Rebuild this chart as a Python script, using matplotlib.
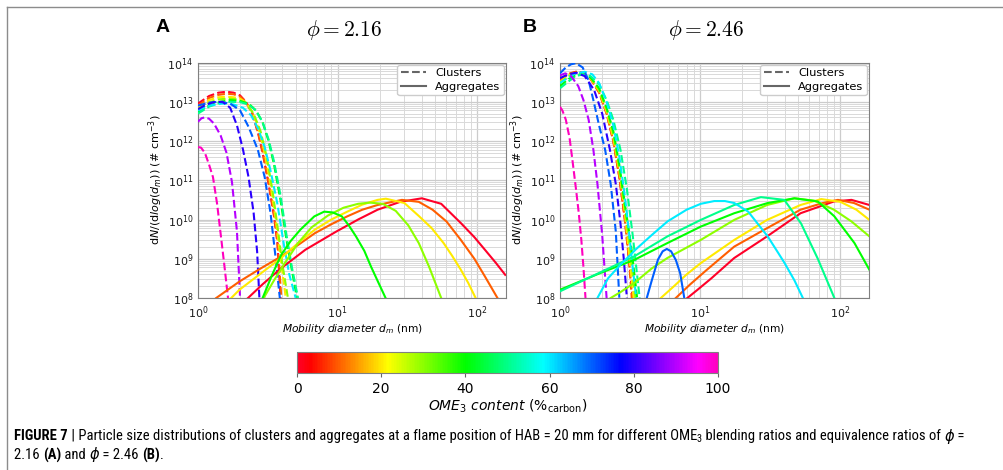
import numpy as np
import matplotlib
matplotlib.use("Agg")
import matplotlib.pyplot as plt
from matplotlib.lines import Line2D
from matplotlib.colors import Normalize
from matplotlib.cm import ScalarMappable
import matplotlib.font_manager as fm

# ---------------- data ----------------
# OME3 content (% carbon) of each curve
A_cluster_content = [0, 10, 20, 30, 40, 50, 60, 70, 80, 90, 100]
A_cluster_d = [
    [1.0, 1.2, 1.4, 1.6, 1.8, 2.0, 2.2, 2.45, 2.7, 2.9, 3.2, 3.5, 3.7, 3.9],
    [1.0, 1.2, 1.4, 1.6, 1.8, 2.0, 2.2, 2.45, 2.7, 2.9, 3.2, 3.5, 3.7, 3.95],
    [1.0, 1.2, 1.4, 1.6, 1.8, 2.0, 2.2, 2.45, 2.7, 3.0, 3.3, 3.6, 3.9, 4.25],
    [1.0, 1.2, 1.4, 1.65, 1.9, 2.2, 2.5, 2.8, 3.1, 3.4, 3.7, 4.0, 4.4],
    [1.0, 1.2, 1.45, 1.7, 2.0, 2.3, 2.6, 2.9, 3.2, 3.5, 3.9, 4.3, 4.7, 5.1],
    [1.0, 1.2, 1.45, 1.7, 2.0, 2.3, 2.6, 2.9, 3.2, 3.5, 3.9, 4.3, 4.7, 5.2],
    [1.0, 1.2, 1.5, 1.8, 2.1, 2.4, 2.7, 3.0, 3.3, 3.7, 4.1, 4.5, 5.0],
    [1.0, 1.2, 1.4, 1.7, 2.0, 2.3, 2.68, 3.0, 3.3, 3.6, 3.85],
    [1.0, 1.15, 1.3, 1.5, 1.7, 1.9, 2.1, 2.3, 2.5, 2.65, 2.75],
    [1.0, 1.06, 1.12, 1.2, 1.3, 1.45, 1.6, 1.75, 1.9, 2.0],
    [1.0, 1.05, 1.12, 1.2, 1.28, 1.37, 1.47, 1.55, 1.64],
]
A_cluster_N = [
    [9e12, 1.4e13, 1.7e13, 1.8e13, 1.7e13, 1.45e13, 1.0e13, 5e12, 1.5e12, 5e11, 8e10, 1.2e10, 2.5e9, 1e8],
    [8e12, 1.25e13, 1.5e13, 1.6e13, 1.55e13, 1.35e13, 1.0e13, 5e12, 1.6e12, 5.5e11, 9e10, 1.4e10, 3e9, 1e8],
    [7e12, 1.1e13, 1.3e13, 1.35e13, 1.3e13, 1.2e13, 9.5e12, 5.5e12, 2.2e12, 5e11, 8e10, 1e10, 1e9, 1e8],
    [6.5e12, 9.5e12, 1.15e13, 1.2e13, 1.15e13, 9e12, 5e12, 1.8e12, 4e11, 6e10, 7e9, 8e8, 1e8],
    [5.5e12, 8e12, 1.0e13, 1.1e13, 1.05e13, 9e12, 6e12, 3e12, 1e12, 2.5e11, 3e10, 3e9, 5e8, 1e8],
    [5e12, 7.5e12, 9.5e12, 1.0e13, 9.8e12, 8.5e12, 6e12, 3e12, 1.1e12, 3e11, 4e10, 4e9, 6e8, 1e8],
    [6e12, 8e12, 9e12, 8.5e12, 7e12, 4.5e12, 2e12, 7e11, 1.8e11, 2.5e10, 2.5e9, 4e8, 1e8],
    [8e12, 9.5e12, 1e13, 9e12, 6e12, 2.3e12, 6e11, 1.2e11, 1.5e10, 1e9, 1e8],
    [6.5e12, 8.5e12, 9.8e12, 1e13, 7e12, 2.5e12, 6e11, 1.2e11, 1.5e10, 1.5e9, 1e8],
    [3.1e12, 3.8e12, 4e12, 3.7e12, 2.8e12, 1.4e12, 5e11, 9e10, 5e9, 1e8],
    [7e11, 6.8e11, 5e11, 2.5e11, 1.2e11, 2.5e10, 3e9, 6e8, 1e8],
]

A_aggr_content = [0, 10, 20, 30, 40]
A_aggr_d = [
    [2.28, 2.9, 3.94, 5.87, 9.73, 14, 19.3, 28, 40, 55, 76, 95, 113, 135, 158],
    [1.35, 1.98, 2.8, 3.94, 5.2, 6.85, 9, 11.7, 15, 19.3, 28.8, 38, 47.7, 60, 76, 95, 113, 139],
    [1.73, 1.98, 2.8, 3.94, 5.2, 6.85, 9, 11.7, 15, 19.3, 22.1, 30, 38.3, 47, 57.2, 66, 76, 86, 97],
    [2.95, 3.5, 4.2, 5.2, 6.5, 8.5, 11, 14, 17, 21, 26, 32, 38, 45, 55],
    [2.9, 3.4, 3.94, 4.6, 5.4, 6.8, 8.0, 9.2, 10.7, 12, 13.5, 15.5, 17.3, 19.5, 22],
]
A_aggr_logN = [
    [8.0, 8.35, 8.76, 9.23, 9.69, 10.0, 10.25, 10.45, 10.54, 10.4, 9.91, 9.55, 9.23, 8.9, 8.59],
    [8.0, 8.42, 8.75, 9.06, 9.35, 9.65, 9.88, 10.08, 10.25, 10.37, 10.5, 10.45, 10.25, 9.95, 9.48, 9.0, 8.55, 8.0],
    [8.0, 8.21, 8.62, 9.02, 9.4, 9.74, 10.0, 10.2, 10.38, 10.5, 10.53, 10.42, 10.08, 9.78, 9.4, 9.07, 8.72, 8.38, 8.0],
    [8.0, 8.45, 8.9, 9.4, 9.8, 10.1, 10.3, 10.4, 10.43, 10.4, 10.22, 9.85, 9.4, 8.8, 8.0],
    [8.0, 8.6, 9.1, 9.45, 9.74, 10.08, 10.2, 10.18, 10.08, 9.85, 9.57, 9.2, 8.8, 8.4, 8.0],
]

B_cluster_content = [0, 10, 20, 30, 40, 50, 60, 70, 80, 90, 100]
B_cluster_d = [
    [1.0, 1.15, 1.3, 1.45, 1.65, 1.9, 2.15, 2.4, 2.65, 2.9, 3.1, 3.3],
    [1.0, 1.15, 1.3, 1.45, 1.65, 1.9, 2.15, 2.4, 2.65, 2.9, 3.1, 3.25],
    [1.0, 1.15, 1.3, 1.45, 1.65, 1.9, 2.15, 2.4, 2.65, 2.9, 3.1, 3.35],
    [1.0, 1.15, 1.3, 1.45, 1.65, 1.9, 2.15, 2.4, 2.65, 2.9, 3.15, 3.45],
    [1.0, 1.15, 1.3, 1.45, 1.65, 1.9, 2.15, 2.4, 2.65, 2.9, 3.2, 3.55],
    [1.0, 1.15, 1.3, 1.45, 1.65, 1.9, 2.15, 2.4, 2.7, 3.0, 3.3, 3.5, 3.7],
    [1.0, 1.15, 1.3, 1.5, 1.7, 1.9, 2.15, 2.4, 2.65, 2.9, 3.1, 3.3, 3.5],
    [1.0, 1.1, 1.2, 1.3, 1.45, 1.6, 1.73, 1.9, 2.1, 2.3, 2.5, 2.65],
    [1.0, 1.15, 1.3, 1.5, 1.75, 2.0, 2.27, 2.5, 2.7, 2.85, 3.0],
    [1.0, 1.09, 1.2, 1.35, 1.47, 1.6, 1.73, 1.85, 2.0, 2.15],
    [1.0, 1.04, 1.1, 1.17, 1.23, 1.3, 1.36, 1.42, 1.47, 1.52],
]
B_cluster_N = [
    [3.5e13, 5e13, 5.8e13, 5.5e13, 4e13, 1.8e13, 5e12, 1e12, 1.2e11, 1e10, 1e9, 1e8],
    [3.8e13, 5.2e13, 5.8e13, 5.3e13, 3.8e13, 1.7e13, 5e12, 1e12, 1.2e11, 1e10, 1e9, 1e8],
    [3.2e13, 4.8e13, 5.5e13, 5.3e13, 4e13, 1.9e13, 5.5e12, 1.2e12, 1.6e11, 1.5e10, 1.5e9, 1e8],
    [3e13, 4.5e13, 5.2e13, 5.2e13, 4.2e13, 2e13, 6.5e12, 1.5e12, 2e11, 2e10, 2e9, 1e8],
    [2.5e13, 3.8e13, 4.8e13, 5e13, 4.2e13, 2.2e13, 7e12, 1.8e12, 2.5e11, 2.5e10, 2.5e9, 1e8],
    [2.2e13, 3.3e13, 4.5e13, 5e13, 4.5e13, 2.8e13, 1.1e13, 3.5e12, 6e11, 6e10, 4e9, 6e8, 1e8],
    [3e13, 4.2e13, 5.3e13, 5.8e13, 5e13, 3e13, 1e13, 2.5e12, 4e11, 4e10, 5e9, 6e8, 1e8],
    [5.3e13, 7.5e13, 9e13, 9.6e13, 7.5e13, 3.5e13, 1.1e13, 2.5e12, 5.9e11, 8e10, 5e9, 1e8],
    [4e13, 5e13, 5.5e13, 4.5e13, 2e13, 5e12, 6e11, 8e10, 8e9, 1e9, 1e8],
    [4.7e13, 5.3e13, 4.5e13, 2.5e13, 1.1e13, 3.5e12, 6e11, 8e10, 4e9, 1e8],
    [7.4e12, 6e12, 3.5e12, 1.2e12, 3e11, 6e10, 1.5e10, 3e9, 6e8, 1e8],
]

B_aggr_content = [0, 10, 20, 30, 40, 50, 60, 70]
B_aggr_d = [
    [8.1, 9.5, 12, 17.5, 30, 52, 90, 120, 161],
    [6.7, 8.5, 11, 17.5, 30, 52, 75, 96, 125, 161],
    [5.24, 6.5, 8, 10.1, 17.5, 30, 52, 73, 100, 130, 161],
    [2.3, 2.7, 3.38, 4.5, 5.84, 10.1, 17.5, 30, 47, 65, 90, 120, 161],
    [1.0, 1.95, 3.38, 5.84, 10.1, 17.5, 30.3, 47, 69, 90.6, 126, 161],
    [1.0, 3.38, 5.84, 10.1, 17.5, 27.1, 39.8, 52.4, 69, 90.6],
    [1.85, 2.2, 2.7, 3.5, 4.5, 5.84, 8, 10.1, 12.6, 15, 17.5, 22, 30.3, 36, 40, 47, 54],
    [4.16, 4.5, 5.0, 5.4, 5.78, 6.2, 6.7, 7.2, 7.7],
]
B_aggr_logN = [
    [8.0, 8.2, 8.5, 9.02, 9.57, 10.16, 10.46, 10.5, 10.37],
    [8.0, 8.35, 8.7, 9.31, 9.78, 10.25, 10.42, 10.5, 10.42, 10.25],
    [8.0, 8.3, 8.6, 8.89, 9.48, 9.99, 10.37, 10.52, 10.45, 10.25, 9.99],
    [8.0, 8.15, 8.38, 8.75, 9.02, 9.48, 9.99, 10.37, 10.54, 10.48, 10.25, 9.95, 9.57],
    [8.21, 8.64, 8.97, 9.4, 9.82, 10.16, 10.42, 10.54, 10.46, 10.08, 9.4, 8.72],
    [8.17, 9.06, 9.57, 9.99, 10.37, 10.57, 10.5, 9.9, 9.0, 8.0],
    [8.0, 8.5, 8.85, 9.25, 9.6, 9.95, 10.25, 10.4, 10.47, 10.47, 10.42, 10.2, 9.57, 9.15, 8.89, 8.45, 8.0],
    [8.0, 8.43, 8.98, 9.19, 9.25, 9.19, 8.97, 8.63, 8.0],
]

panel_titles = [r"$\phi = 2.16$", r"$\phi = 2.46$"]
panel_letters = ["A", "B"]
cbar_ticks = [0, 20, 40, 60, 80, 100]

# ---------------- figure ----------------
plt.rcParams["mathtext.fontset"] = "dejavusans"
W, H = 1004, 470
fig = plt.figure(figsize=(W / 100, H / 100), dpi=100)
cmap = plt.get_cmap("gist_rainbow")
norm = Normalize(0, 100)

def fx(px):
    return px / W

def fy(py):
    return 1 - py / H

ax_boxes = [(198, 506), (560, 869)]
ax_top, ax_bot = 62.5, 298

panels = [
    (A_cluster_content, A_cluster_d, A_cluster_N, A_aggr_content, A_aggr_d, A_aggr_logN),
    (B_cluster_content, B_cluster_d, B_cluster_N, B_aggr_content, B_aggr_d, B_aggr_logN),
]

title_x = [344, 706]
letter_x = [163, 530]

for k, (cc, cd, cn, ac, ad, an) in enumerate(panels):
    l, r = ax_boxes[k]
    ax = fig.add_axes([fx(l), fy(ax_bot), (r - l) / W, (ax_bot - ax_top) / H])
    for c, d, n in zip(cc, cd, cn):
        ax.plot(d, n, ls="--", color=cmap(norm(c)), lw=1.5, zorder=3)
    for c, d, ln in zip(ac, ad, an):
        ax.plot(d, 10.0 ** np.array(ln), ls="-", color=cmap(norm(c)), lw=1.5, zorder=3)
    ax.set_xscale("log")
    ax.set_yscale("log")
    ax.set_xlim(1, 160)
    ax.set_ylim(1e8, 1e14)
    ax.yaxis.set_major_locator(matplotlib.ticker.LogLocator(base=10, numticks=20))
    ax.yaxis.set_minor_locator(matplotlib.ticker.LogLocator(base=10, subs=np.arange(2, 10), numticks=100))
    ax.grid(True, which="major", color="0.8", lw=0.9)
    ax.grid(True, which="minor", color="0.85", lw=0.7)
    ax.set_axisbelow(True)
    for s in ax.spines.values():
        s.set_color("0.5")
    ax.tick_params(which="both", length=0, labelsize=8, labelcolor="0.1")
    ax.tick_params(axis="x", which="both", pad=4.5)
    ax.tick_params(axis="y", which="both", pad=3.5)
    ax.set_xlabel(r"$Mobility\ diameter\ d_m$ (nm)", fontsize=7.7, labelpad=1)
    ax.set_ylabel(r"d$N$/(d$log$($d_m$)) (# cm$^{-3}$)", fontsize=8, labelpad=2)
    handles = [Line2D([], [], color="0.4", ls="--", lw=1.5),
               Line2D([], [], color="0.4", ls="-", lw=1.5)]
    ax.legend(handles, ["Clusters", "Aggregates"], loc="upper right", fontsize=8.2,
              handlelength=2.2, handletextpad=0.8, borderpad=0.3, labelspacing=0.3,
              framealpha=1, edgecolor="0.8", fancybox=True, borderaxespad=0.2)
    fig.text(fx(title_x[k]), fy(30), panel_titles[k], ha="center", va="center",
             fontsize=15.5, math_fontfamily="cm")
    fig.text(fx(letter_x[k]), fy(28), panel_letters[k], ha="center", va="center",
             fontsize=14, fontweight="bold", family="Liberation Sans")

# colorbar
cax = fig.add_axes([fx(297), fy(373), 421 / W, 21 / H])
cb = fig.colorbar(ScalarMappable(norm=norm, cmap=cmap), cax=cax, orientation="horizontal")
cb.set_ticks(cbar_ticks)
cb.ax.tick_params(labelsize=10, color="0.4", length=3)
cb.outline.set_edgecolor("0.5")
cb.set_label(r"$OME_3\ content\ (\%_{\mathrm{carbon}})$", fontsize=10, labelpad=1)

# figure frame (top and left)
fig.add_artist(Line2D([fx(7), 1], [fy(7), fy(7)], color="0.55", lw=1.0))
fig.add_artist(Line2D([fx(7), fx(7)], [fy(7), 0], color="0.55", lw=1.0))

# ---------------- caption ----------------
cap_family, cap_stretch = "Liberation Sans", "normal"
narrow = None
pref = ["Liberation Sans Narrow", "Arial Narrow", "Roboto Condensed", "DejaVu Sans",
        "Open Sans Condensed", "Noto Sans", "Open Sans"]
for want in pref:
    for f in fm.fontManager.ttflist:
        fn = f.fname.lower()
        if f.name == want and ("narrow" in fn or "condensed" in fn or "narrow" in f.name.lower()
                               or "condensed" in f.name.lower()):
            narrow = (f.name, f.stretch if isinstance(f.stretch, str) else "condensed")
            break
    if narrow:
        break
if narrow:
    cap_family = narrow[0]
    cap_stretch = narrow[1] if narrow[0] in ("DejaVu Sans", "Noto Sans", "Open Sans") else "normal"

renderer = fig.canvas.get_renderer()

def runs(pieces, x0, y0, size, store):
    x = x0
    for txt, bold, italic, sub in pieces:
        sz = size * 0.7 if sub else size
        yy = y0 + (size * 0.3 if sub else 0)
        t = fig.text(fx(x), fy(yy), txt, fontsize=sz, ha="left", va="center",
                     family=[cap_family, "DejaVu Sans"], fontstretch=cap_stretch,
                     fontweight="bold" if bold else "normal",
                     fontstyle="italic" if italic else "normal")
        store.append(t)
        x += t.get_window_extent(renderer=renderer).width
    return x

line1 = [("FIGURE 7", True, False, False),
         (" | Particle size distributions of clusters and aggregates at a flame position of HAB = 20 mm for different OME", False, False, False),
         ("3", False, False, True),
         (" blending ratios and equivalence ratios of ", False, False, False),
         ("ϕ", False, True, False), (" =", False, False, False)]
line2 = [("2.16 ", False, False, False), ("(A)", True, False, False), (" and ", False, False, False),
         ("ϕ", False, True, False), (" = 2.46 ", False, False, False), ("(B)", True, False, False),
         (".", False, False, False)]

tmp = []
s0 = 10.0
xe = runs(line1, 14, 436, s0, tmp)
for t in tmp:
    t.remove()
cap_size = min(10.7, s0 * (955 - 14) / (xe - 14))
arts = []
runs(line1, 14, 436, cap_size, arts)
runs(line2, 14, 455, cap_size, arts)

fig.savefig("out.png", dpi=100)
